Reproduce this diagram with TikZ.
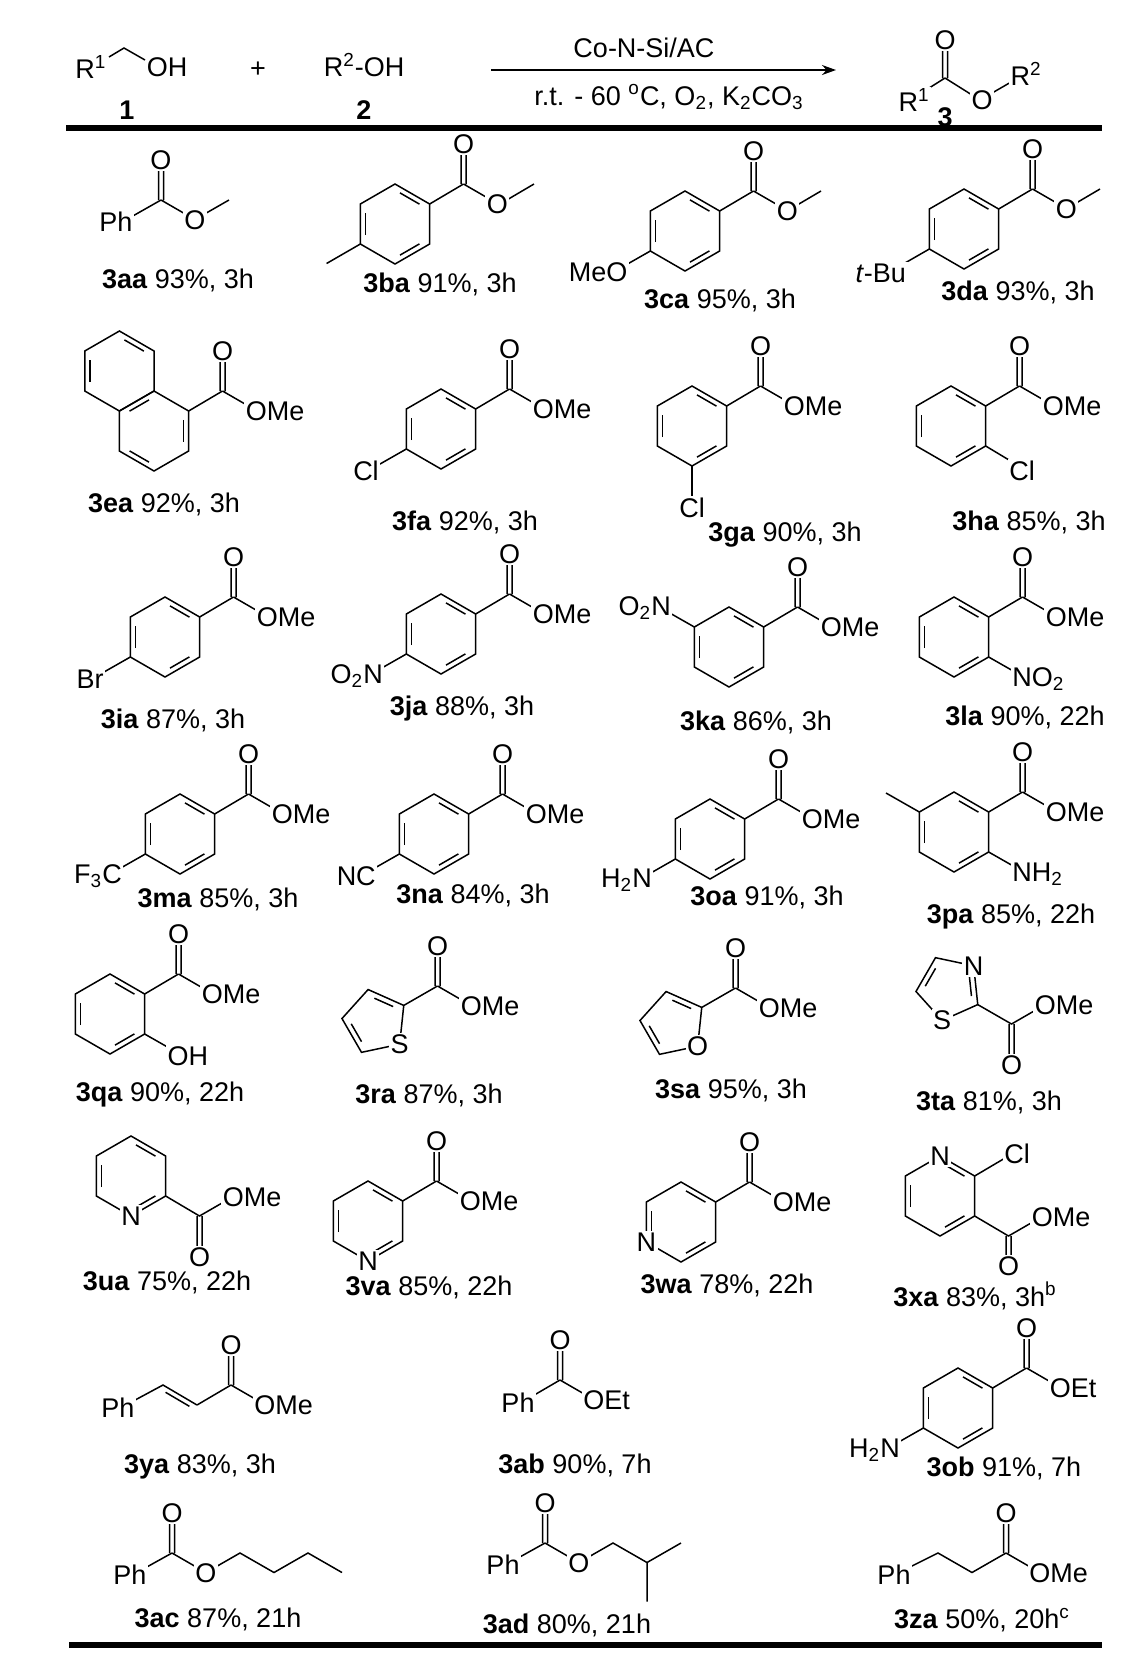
\documentclass[tikz,border=0pt]{standalone}
\usepackage{fontspec}
\setmainfont{Liberation Sans}
\usetikzlibrary{calc,arrows.meta}
\newcommand\chem{\fontsize{13.5}{16}\selectfont}
\tikzset{bond/.style={line width=0.75pt},atom/.style={fill=white,inner sep=0.8pt,font=\chem},lab/.style={font=\chem}}
\newcommand\ring[2]{\coordinate (c) at (#1,#2);
 \coordinate (v1) at ($(c)+(-90:40)$);\coordinate (v2) at ($(c)+(-30:40)$);
 \coordinate (v3) at ($(c)+(30:40)$);\coordinate (v4) at ($(c)+(90:40)$);
 \coordinate (v5) at ($(c)+(150:40)$);\coordinate (v6) at ($(c)+(210:40)$);
 \draw[bond] (v1)--(v2)--(v3)--(v4)--(v5)--(v6)--cycle;}
\newcommand\inb[2]{\draw[bond] ($(v#1)!0.17!(v#2)!0.15!(c)$) -- ($(v#2)!0.17!(v#1)!0.15!(c)$);}
\newcommand\pent[3]{\coordinate (c) at (#1,#2);
 \foreach \k in {1,...,5}{\coordinate (p\k) at ($(c)+({-(#3)-72*(\k-1)}:33.2)$);}
 \draw[bond] (p1)--(p2)--(p3)--(p4)--(p5)--cycle;}
\newcommand\pinb[2]{\draw[bond] ($(p#1)!0.17!(p#2)!0.2!(c)$) -- ($(p#2)!0.17!(p#1)!0.2!(c)$);}
\newcommand\ester[3]{\draw[bond] (#1-2.5,#2)--(#1-2.5,#2-39) (#1+2.5,#2)--(#1+2.5,#2-39) (#1,#2)--(#1+33.8,#2+19.5);
 \node[atom] at (#1,#2-40) {O}; \node[atom] at (#1+33.8,#2+20) {#3};}
\newcommand\bz[3]{\ring{#1}{#2}\inb12\inb34\inb56
 \pgfmathsetmacro\myex{#1+68.5}\pgfmathsetmacro\myey{#2-40}
 \draw[bond] (v2)--(\myex,\myey); \ester{\myex}{\myey}{#3}}
\newcommand\Me{O\rlap{Me}}
\newcommand\sub[1]{\textsubscript{#1}}
\begin{document}
\begin{tikzpicture}[x=0.5pt,y=-0.5pt]
\useasboundingbox (0,0) rectangle (1128,1667);
% header
\draw[bond] (109,57)--(124,48)--(145,60);
\node[lab] at (91,67) {R\textsuperscript{1}};
\node[lab] at (167,67) {OH};
\node[lab] at (127,110) {\textbf{1}};
\node[lab] at (258,70) {+};
\node[lab] at (364,65) {R\textsuperscript{2}-OH};
\node[lab] at (364,110) {\textbf{2}};
\draw[bond,-{Stealth[length=7pt,width=5pt]}] (491,70)--(836,70);
\node[lab] at (644,48) {Co-N-Si/AC};
\node[lab] at (669,97) {r.t. - 60 \textsuperscript{o}C, O\sub{2}, K\sub{2}CO\sub{3}};
\draw[bond] (942.5,78)--(942.5,44) (947.5,78)--(947.5,44) (945,78)--(918,95) (945,78)--(980,100)--(1018,78);
\node[atom] at (945,40) {O};
\node[atom] at (982,100) {O};
\node[atom] at (914,100) {R\textsuperscript{1}};
\node[atom] at (1026,74) {R\textsuperscript{2}};
\node[lab] at (945,117) {\textbf{3}};
\draw[line width=2.6pt] (66,128)--(1102,128);
\draw[line width=2.6pt] (69,1645)--(1102,1645);
% row 1
\draw[bond] (161,200)--(124,221);
\draw[bond] (195,219.5)--(229,200);
\ester{161}{200}{O}
\node[atom] at (116,222) {Ph};
\node[lab] at (178,280) {\textbf{3aa} 93\%, 3h};
\draw[bond] (500,204)--(534,184);
\bz{395}{224}{O}
\draw[bond] (v5)--++(-33.8,19.5);
\node[lab] at (440,284) {\textbf{3ba} 91\%, 3h};
\draw[bond] (787,211)--(821,191);
\bz{685}{231}{O}
\draw[bond] (v5)--(617,270); \node[atom] at (617,272) {\llap{Me}O};
\node[lab] at (720,300) {\textbf{3ca} 95\%, 3h};
\draw[bond] (1066,209)--(1100,189);
\bz{964}{229}{O}
\draw[bond] (v5)--(898,267); \node[atom,anchor=east] at (908,273) {\textit{t}-Bu};
\node[lab] at (1018,292) {\textbf{3da} 93\%, 3h};
% row 2
\ring{154}{431}\inb23\inb45\inb61
\draw[bond] (v2)--(222.5,391);
\ester{222.5}{391}{\Me}
\ring{119.4}{371}\inb12\inb56
\node[lab] at (164,504) {\textbf{3ea} 92\%, 3h};
\bz{441}{429}{\Me}
\draw[bond] (v5)--(373,468); \node[atom] at (366,471) {Cl};
\node[lab] at (465,522) {\textbf{3fa} 92\%, 3h};
\bz{692}{426}{\Me}
\draw[bond] (v4)--(692,500); \node[atom] at (692,508) {Cl};
\node[lab] at (785,535) {\textbf{3ga} 90\%, 3h};
\bz{951}{426}{\Me}
\draw[bond] (v3)--(1019,466); \node[atom] at (1022,471) {Cl};
\node[lab] at (1029,522) {\textbf{3ha} 85\%, 3h};
% row 3
\bz{165}{637}{\Me}
\draw[bond] (v5)--(97,676); \node[atom] at (90,679) {Br};
\node[lab] at (173,720) {\textbf{3ia} 87\%, 3h};
\bz{441}{634}{\Me}
\draw[bond] (v5)--(373,673); \node[atom] at (373,676) {\llap{O\sub{2}}N};
\node[lab] at (462,709) {\textbf{3ja} 88\%, 3h};
\bz{729}{647}{\Me}
\draw[bond] (v6)--(661,608); \node[atom] at (661,608) {\llap{O\sub{2}}N};
\node[lab] at (756,722) {\textbf{3ka} 86\%, 3h};
\bz{954}{637}{\Me}
\draw[bond] (v3)--(1022,676); \node[atom] at (1022,679) {N\rlap{O\sub{2}}};
\node[lab] at (1025,717) {\textbf{3la} 90\%, 22h};
% row 4
\bz{180}{834}{\Me}
\draw[bond] (v5)--(112,873); \node[atom] at (112,876) {\llap{F\sub{3}}C};
\node[lab] at (218,899) {\textbf{3ma} 85\%, 3h};
\bz{434}{834}{\Me}
\draw[bond] (v5)--(366,873); \node[atom] at (366,876) {\llap{N}C};
\node[lab] at (473,895) {\textbf{3na} 84\%, 3h};
\bz{710}{839}{\Me}
\draw[bond] (v5)--(642,878); \node[atom] at (642,880) {\llap{H\sub{2}}N};
\node[lab] at (767,897) {\textbf{3oa} 91\%, 3h};
\bz{954}{832}{\Me}
\draw[bond] (v6)--(886,793);
\draw[bond] (v3)--(1022,871); \node[atom] at (1022,874) {N\rlap{H\sub{2}}};
\node[lab] at (1011,917) {\textbf{3pa} 85\%, 22h};
% row 5
\bz{110}{1014}{\Me}
\draw[bond] (v3)--(178,1053); \node[atom] at (178,1056) {O\rlap{H}};
\node[lab] at (160,1095) {\textbf{3qa} 90\%, 22h};
\pent{375}{1022}{30}\pinb12\pinb34
\draw[bond] (p1)--(437.5,986); \ester{437.5}{986}{\Me}
\node[atom] at (p5) {S};
\node[lab] at (429,1095) {\textbf{3ra} 87\%, 3h};
\pent{673}{1024}{30}\pinb12\pinb34
\draw[bond] (p1)--(735.5,988); \ester{735.5}{988}{\Me}
\node[atom] at (p5) {O};
\node[lab] at (731,1090) {\textbf{3sa} 95\%, 3h};
\pent{949}{988}{-30}\pinb12\pinb34
\draw[bond] (p1)--(1011.5,1024)--(1045.3,1004.5) (1009,1024)--(1009,1063) (1014,1024)--(1014,1063);
\node[atom] at (p2) {N}; \node[atom] at (p5) {S};
\node[atom] at (1011.5,1065) {O}; \node[atom] at (1045.3,1005) {\Me};
\node[lab] at (989,1102) {\textbf{3ta} 81\%, 3h};
% row 6
\ring{131}{1176}\inb12\inb34\inb56
\draw[bond] (v3)--(199.5,1216)--(233.3,1196.5) (197,1216)--(197,1255) (202,1216)--(202,1255);
\node[atom] at (v4) {N}; \node[atom] at (199.5,1257) {O}; \node[atom] at (233.3,1197) {\Me};
\node[lab] at (167,1282) {\textbf{3ua} 75\%, 22h};
\bz{368}{1221}{\Me}
\node[atom] at (v4) {N};
\node[lab] at (429,1287) {\textbf{3va} 85\%, 22h};
\bz{681}{1222}{\Me}
\node[atom] at (v5) {N};
\node[lab] at (727,1285) {\textbf{3wa} 78\%, 22h};
\ring{940}{1196}\inb12\inb34\inb56
\draw[bond] (v2)--(1008.5,1156);
\draw[bond] (v3)--(1008.5,1236)--(1042.3,1216.5) (1006,1236)--(1006,1264) (1011,1236)--(1011,1264);
\node[atom] at (v1) {N}; \node[atom] at (1017,1154) {Cl};
\node[atom] at (1008.5,1266) {O}; \node[atom] at (1042.3,1217) {\Me};
\node[lab] at (975,1296) {\textbf{3xa} 83\%, 3h\textsuperscript{b}};
% row 7
\draw[bond] (124,1406)--(163,1385)--(197,1405);
\draw[bond] ($(163,1385)!0.15!(197,1405)+(-2.5,4.3)$)--($(197,1405)!0.15!(163,1385)+(-2.5,4.3)$);
\draw[bond] (197,1405)--(231,1385);
\ester{231}{1385}{\Me}
\node[atom] at (118,1408) {Ph};
\node[lab] at (200,1467) {\textbf{3ya} 83\%, 3h};
\draw[bond] (560,1380)--(524,1401);
\ester{560}{1380}{O\rlap{Et}}
\node[atom] at (518,1403) {Ph};
\node[lab] at (575,1465) {\textbf{3ab} 90\%, 7h};
\bz{958}{1408}{O\rlap{Et}}
\draw[bond] (v5)--(890,1447); \node[atom] at (890,1450) {\llap{H\sub{2}}N};
\node[lab] at (1004,1468) {\textbf{3ob} 91\%, 7h};
% row 8
\draw[bond] (172,1553)--(136,1573);
\draw[bond] (206,1572.5)--(240,1553)--(274,1572.5)--(308,1553)--(342,1572.5);
\ester{172}{1553}{O}
\node[atom] at (130,1575) {Ph};
\node[lab] at (218,1619) {\textbf{3ac} 87\%, 21h};
\draw[bond] (545,1543)--(509,1563);
\draw[bond] (579,1562.5)--(613,1543)--(647,1562.5)--(681,1543) (647,1562.5)--(647,1601.5);
\ester{545}{1543}{O}
\node[atom] at (503,1565) {Ph};
\node[lab] at (567,1625) {\textbf{3ad} 80\%, 21h};
\draw[bond] (900,1572)--(938,1553)--(972,1572.5)--(1006,1553);
\ester{1006}{1553}{\Me}
\node[atom] at (894,1575) {Ph};
\node[lab] at (982,1620) {\textbf{3za} 50\%, 20h\textsuperscript{c}};
\end{tikzpicture}
\end{document}
